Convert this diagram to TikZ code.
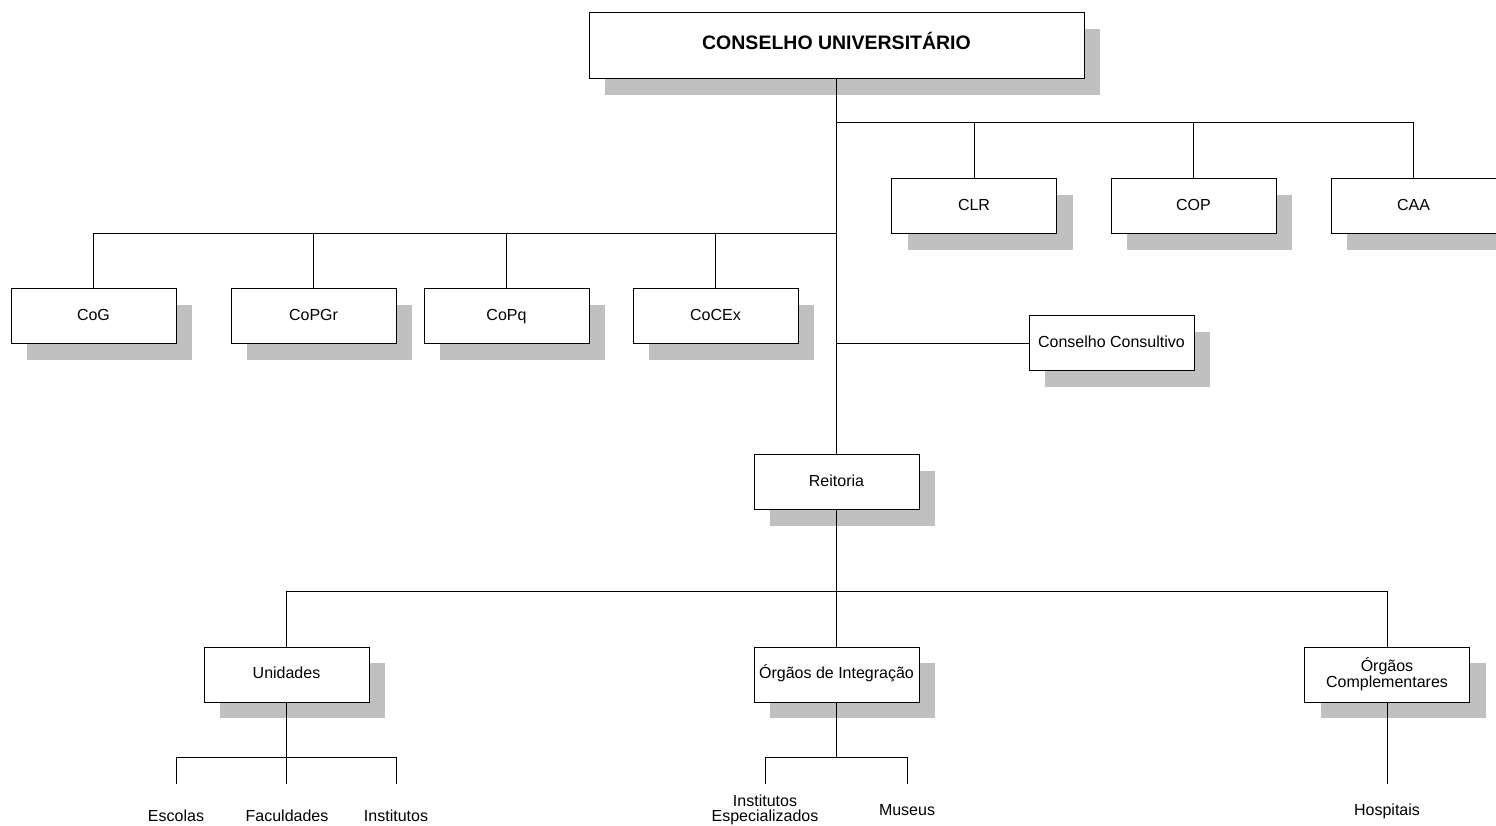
\documentclass[tikz,border=0pt]{standalone}
\usepackage{fontspec}
\setmainfont{Liberation Sans}
\usepackage{tikz}
\usetikzlibrary{shapes,arrows,shadows}
\definecolor{shade}{RGB}{192,192,192}
\tikzstyle{box} = [rectangle, draw, fill=white, line width=1pt,
    minimum width=165pt, minimum height=55pt, align=center,
    font=\fontsize{16}{18}\selectfont,
    drop shadow={shadow xshift=16pt, shadow yshift=-16pt, fill=shade, opacity=1}]
\tikzstyle{unit} = [box, text height=12pt, text depth=4pt]
\tikzstyle{council} = [unit, minimum width=495pt, minimum height=66pt,
    font=\fontsize{19.5}{22}\selectfont\bfseries]
\tikzstyle{leaf} = [align=center, inner sep=0pt, font=\fontsize{16}{18}\selectfont]
\tikzstyle{link} = [draw, line width=1pt]

\begin{document}
\begin{tikzpicture}[x=1pt, y=-1pt]
    \useasboundingbox (0,0) rectangle (1496,826);
    % Place nodes
    % Council
    \node [council] (cu) at (836.5,46) {CONSELHO UNIVERSIT\'ARIO};

    % Committees
    \node [unit] (clr) at (974,206.5) {CLR};
    \node [unit] (cop) at (1193.5,206.5) {COP};
    \node [unit] (caa) at (1413.5,206.5) {CAA};
    \node [unit] (cog) at (93.5,316) {CoG};
    \node [unit] (copgr) at (313.5,316) {CoPGr};
    \node [unit] (copq) at (506.5,316) {CoPq};
    \node [unit] (cocex) at (715.5,316) {CoCEx};
    \node [unit] (cc) at (1111.5,343) {Conselho Consultivo};

    % Rectorate and organs
    \node [unit] (reit) at (836.5,482) {Reitoria};
    \node [unit] (unid) at (286.5,674.5) {Unidades};
    \node [unit] (integ) at (836.5,674.5) {\'Org\~aos de Integra\c c\~ao};
    \node [box] (compl) at (1387,674.5) {\'Org\~aos\\[-2pt]Complementares};

    % Leaves
    \node [leaf] (escolas) at (176,816) {Escolas};
    \node [leaf] (facul) at (287,816) {Faculdades};
    \node [leaf] (inst) at (396,816) {Institutos};
    \node [leaf] (instesp) at (765,810) {Institutos\\[-3pt]Especializados};
    \node [leaf] (museus) at (907,810) {Museus};
    \node [leaf] (hosp) at (1387,811) {Hospitais};

    % Junctions
    \coordinate (jtop) at (836.5,123);
    \coordinate (jleft) at (836.5,234);
    \coordinate (jbot) at (836.5,591);
    \coordinate (junid) at (286.5,757);
    \coordinate (jinteg) at (836.5,757);
    \coordinate (tescolas) at (176,784);
    \coordinate (tfacul) at (286.5,784);
    \coordinate (tinst) at (396,784);
    \coordinate (tinstesp) at (765,784);
    \coordinate (tmuseus) at (907,784);
    \coordinate (thosp) at (1387,784);

    % Draw edges
    \draw [link] (cu.south) -- (reit.north);
    \foreach \n in {clr,cop,caa}
        \draw [link] (jtop) -| (\n.north);
    \foreach \n in {cog,copgr,copq,cocex}
        \draw [link] (jleft) -| (\n.north);
    \draw [link] (cc.west) -- (cc.west -| cu.south);
    \draw [link] (reit.south) -- (integ.north);
    \foreach \n in {unid,compl}
        \draw [link] (jbot) -| (\n.north);
    % Sub-units
    \draw [link] (unid.south) -- (junid);
    \foreach \n in {tescolas,tfacul,tinst}
        \draw [link] (junid) -| (\n);
    \draw [link] (integ.south) -- (jinteg);
    \foreach \n in {tinstesp,tmuseus}
        \draw [link] (jinteg) -| (\n);
    \draw [link] (compl.south) -- (thosp);

\end{tikzpicture}
\end{document}
